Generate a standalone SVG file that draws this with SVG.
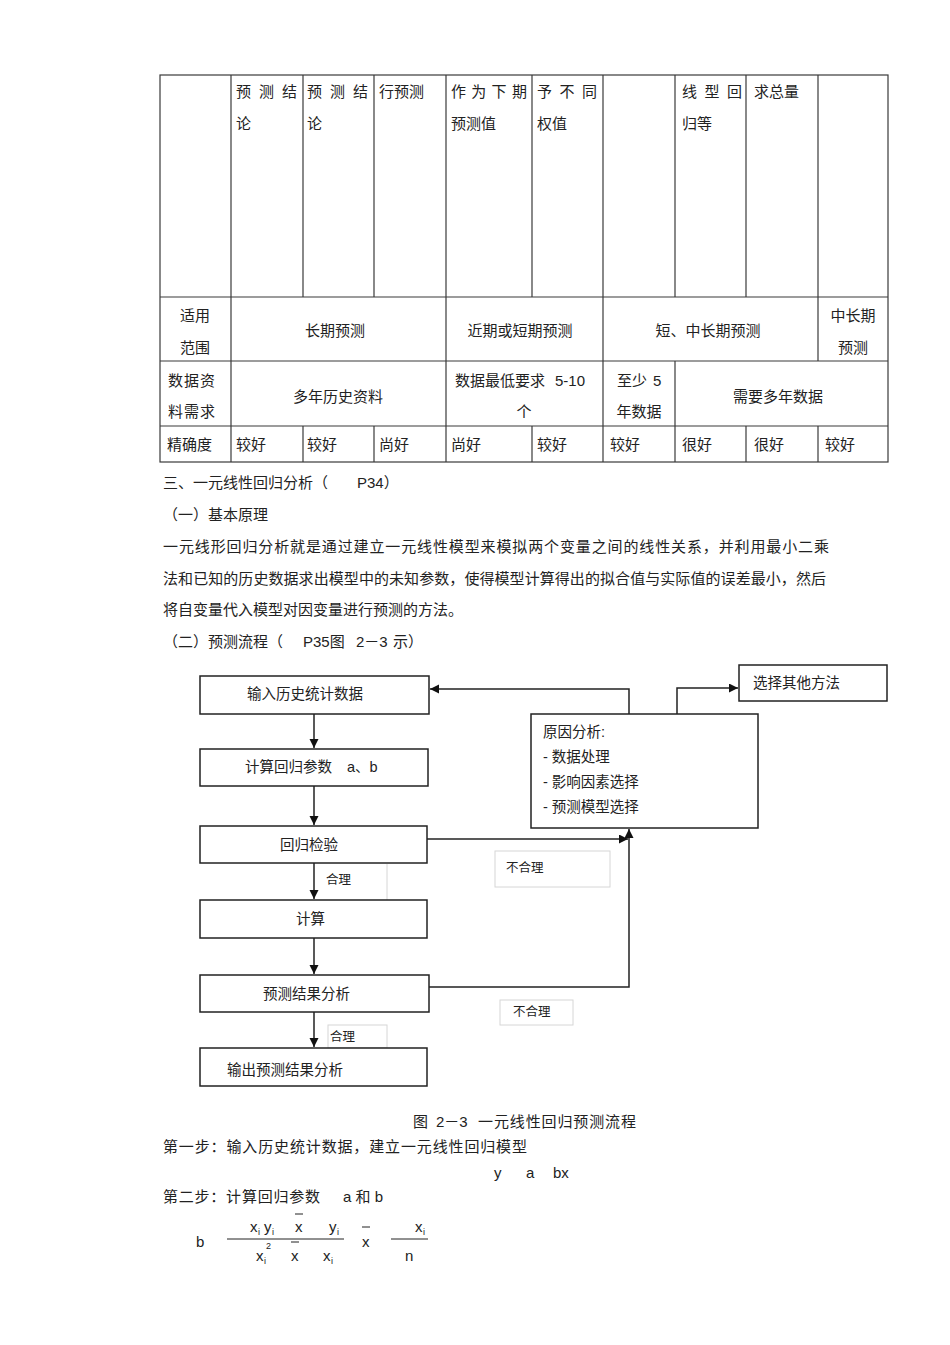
<svg xmlns="http://www.w3.org/2000/svg" width="950" height="1345" viewBox="0 0 950 1345">
<style>
text{font-family:"Liberation Sans","Noto Sans CJK SC",sans-serif;fill:#222;}
.t{font-size:15px;}
.f{font-size:14.5px;}
.s{font-size:12.5px;}
.m{font-size:15px;font-family:"Liberation Sans",sans-serif;}
.sub{font-size:9px;font-family:"Liberation Sans",sans-serif;}
.c{text-anchor:middle;}
.tl{stroke:#3a3a3a;stroke-width:1.2;fill:none;}
.box{stroke:#222;stroke-width:1.5;fill:#fff;}
.faint{stroke:#d6d6d6;stroke-width:1;fill:none;}
.con{stroke:#222;stroke-width:1.5;fill:none;}
</style>
<defs>
<marker id="ah" markerUnits="userSpaceOnUse" markerWidth="10" markerHeight="10" refX="9" refY="4.5" orient="auto">
<path d="M0,0 L9,4.5 L0,9 z" fill="#111"/>
</marker>
</defs>
<rect x="0" y="0" width="950" height="1345" fill="#fff"/>

<g id="table">
<rect class="tl" x="160" y="75" width="728" height="387"/>
<line class="tl" x1="160" y1="297" x2="888" y2="297"/>
<line class="tl" x1="160" y1="361" x2="888" y2="361"/>
<line class="tl" x1="160" y1="426" x2="888" y2="426"/>
<line class="tl" x1="231" y1="75" x2="231" y2="462"/>
<line class="tl" x1="446" y1="75" x2="446" y2="462"/>
<line class="tl" x1="603" y1="75" x2="603" y2="462"/>
<line class="tl" x1="303" y1="75" x2="303" y2="297"/>
<line class="tl" x1="303" y1="426" x2="303" y2="462"/>
<line class="tl" x1="374" y1="75" x2="374" y2="297"/>
<line class="tl" x1="374" y1="426" x2="374" y2="462"/>
<line class="tl" x1="532" y1="75" x2="532" y2="297"/>
<line class="tl" x1="532" y1="426" x2="532" y2="462"/>
<line class="tl" x1="746" y1="75" x2="746" y2="297"/>
<line class="tl" x1="746" y1="426" x2="746" y2="462"/>
<line class="tl" x1="675" y1="75" x2="675" y2="297"/>
<line class="tl" x1="675" y1="361" x2="675" y2="462"/>
<line class="tl" x1="818" y1="75" x2="818" y2="361"/>
<line class="tl" x1="818" y1="426" x2="818" y2="462"/>

<text class="t" x="236" y="97" letter-spacing="8">预测结</text>
<text class="t" x="236" y="129">论</text>
<text class="t" x="307" y="97" letter-spacing="8">预测结</text>
<text class="t" x="307" y="129">论</text>
<text class="t" x="379" y="97">行预测</text>
<text class="t" x="451" y="97" letter-spacing="5.3">作为下期</text>
<text class="t" x="451" y="129">预测值</text>
<text class="t" x="537" y="97" letter-spacing="7.5">予不同</text>
<text class="t" x="537" y="129">权值</text>
<text class="t" x="682" y="97" letter-spacing="7.5">线型回</text>
<text class="t" x="682" y="129">归等</text>
<text class="t" x="754" y="97">求总量</text>

<text class="t c" x="195" y="321">适用</text>
<text class="t c" x="195" y="353">范围</text>
<text class="t c" x="335" y="336">长期预测</text>
<text class="t c" x="520" y="336">近期或短期预测</text>
<text class="t c" x="708" y="336">短、中长期预测</text>
<text class="t c" x="853" y="321">中长期</text>
<text class="t c" x="853" y="353">预测</text>

<text class="t" x="168" y="386" letter-spacing="1">数据资</text>
<text class="t" x="168" y="417" letter-spacing="1">料需求</text>
<text class="t c" x="338" y="402">多年历史资料</text>
<text class="t" x="455" y="386">数据最低要求<tspan dx="10">5-10</tspan></text>
<text class="t c" x="524" y="417">个</text>
<text class="t" x="617" y="386">至少<tspan dx="6">5</tspan></text>
<text class="t c" x="639" y="417">年数据</text>
<text class="t c" x="778" y="402">需要多年数据</text>

<text class="t" x="167" y="450">精确度</text>
<text class="t" x="236" y="450">较好</text>
<text class="t" x="307" y="450">较好</text>
<text class="t" x="379" y="450">尚好</text>
<text class="t" x="451" y="450">尚好</text>
<text class="t" x="537" y="450">较好</text>
<text class="t" x="610" y="450">较好</text>
<text class="t" x="682" y="450">很好</text>
<text class="t" x="754" y="450">很好</text>
<text class="t" x="825" y="450">较好</text>
</g>

<g id="text-body">
<text class="t" x="163" y="488">三、一元线性回归分析（<tspan x="357">P34）</tspan></text>
<text class="t" x="163" y="520">（一）基本原理</text>
<text class="t" x="163" y="552" textLength="666" lengthAdjust="spacing">一元线形回归分析就是通过建立一元线性模型来模拟两个变量之间的线性关系，并利用最小二乘</text>
<text class="t" x="163" y="584" textLength="663" lengthAdjust="spacing">法和已知的历史数据求出模型中的未知参数，使得模型计算得出的拟合值与实际值的误差最小，然后</text>
<text class="t" x="163" y="615">将自变量代入模型对因变量进行预测的方法。</text>
<text class="t" x="163" y="647">（二）预测流程（<tspan x="303">P35图</tspan><tspan x="356">2－3</tspan><tspan x="393">示）</tspan></text>
</g>

<g id="connectors">
<line class="con" x1="314" y1="714" x2="314" y2="748" marker-end="url(#ah)"/>
<line class="con" x1="314" y1="786" x2="314" y2="825" marker-end="url(#ah)"/>
<line class="con" x1="314" y1="863" x2="314" y2="899" marker-end="url(#ah)"/>
<line class="con" x1="314" y1="938" x2="314" y2="974" marker-end="url(#ah)"/>
<line class="con" x1="314" y1="1012" x2="314" y2="1047" marker-end="url(#ah)"/>
<path class="con" d="M629,714 V689 H430" marker-end="url(#ah)"/>
<path class="con" d="M677,714 V688 H738" marker-end="url(#ah)"/>
<path class="con" d="M427,839 H628" marker-end="url(#ah)"/>
<path class="con" d="M429,987 H629 V829" marker-end="url(#ah)"/>
</g>

<g id="label-heli1">
<line class="faint" x1="387" y1="864" x2="387" y2="900"/>
<text class="s" x="326" y="884">合理</text>
</g>
<g id="label-buheli1">
<rect class="faint" x="495" y="851" width="115" height="36"/>
<text class="s" x="506" y="872">不合理</text>
</g>
<g id="label-buheli2">
<rect class="faint" x="500" y="1000" width="73" height="25"/>
<text class="s" x="513" y="1016">不合理</text>
</g>
<g id="label-heli2">
<rect class="faint" x="328" y="1025" width="59" height="23"/>
<text class="s" x="330" y="1041">合理</text>
</g>

<g id="n1">
<rect class="box" x="200" y="676" width="229" height="38"/>
<text class="f" x="247" y="699">输入历史统计数据</text>
</g>
<g id="n2">
<rect class="box" x="200" y="749" width="228" height="37"/>
<text class="f" x="245" y="772">计算回归参数<tspan x="347">a、b</tspan></text>
</g>
<g id="n3">
<rect class="box" x="200" y="826" width="227" height="37"/>
<text class="f" x="280" y="850">回归检验</text>
</g>
<g id="n4">
<rect class="box" x="200" y="900" width="227" height="38"/>
<text class="f" x="296" y="924">计算</text>
</g>
<g id="n5">
<rect class="box" x="200" y="975" width="229" height="37"/>
<text class="f" x="263" y="999">预测结果分析</text>
</g>
<g id="n6">
<rect class="box" x="200" y="1048" width="227" height="38"/>
<text class="f" x="227" y="1075">输出预测结果分析</text>
</g>
<g id="n7">
<rect class="box" x="531" y="714" width="227" height="114"/>
<text class="f" x="543" y="737">原因分析:</text>
<text class="f" x="543" y="762">- 数据处理</text>
<text class="f" x="543" y="787">- 影响因素选择</text>
<text class="f" x="543" y="812">- 预测模型选择</text>
</g>
<g id="n8">
<rect class="box" x="739" y="665" width="148" height="36"/>
<text class="f" x="753" y="688">选择其他方法</text>
</g>

<g id="text-after">
<text class="t" x="413" y="1127">图<tspan x="436">2－3</tspan><tspan x="478" textLength="158" lengthAdjust="spacing">一元线性回归预测流程</tspan></text>
<text class="t" x="163" y="1152" textLength="364" lengthAdjust="spacing">第一步：输入历史统计数据，建立一元线性回归模型</text>
<text class="m" x="494" y="1178">y</text>
<text class="m" x="526" y="1178">a</text>
<text class="m" x="553" y="1178">bx</text>
<text class="t" x="163" y="1202"><tspan textLength="157" lengthAdjust="spacing">第二步：计算回归参数</tspan><tspan x="343">a 和 b</tspan></text>

<text class="m" x="196" y="1247">b</text>
<line x1="227" y1="1239" x2="344" y2="1239" stroke="#222" stroke-width="1"/>
<text class="m" x="250" y="1232">x</text><text class="sub" x="258" y="1235">i</text>
<text class="m" x="264" y="1232">y</text><text class="sub" x="272" y="1235">i</text>
<text class="m" x="295" y="1232">x</text>
<line x1="295" y1="1214" x2="303" y2="1214" stroke="#222" stroke-width="1"/>
<text class="m" x="329" y="1232">y</text><text class="sub" x="337" y="1235">i</text>
<text class="m" x="256" y="1261">x</text><text class="sub" x="264" y="1264">i</text><text class="sub" x="266" y="1249">2</text>
<text class="m" x="291" y="1261">x</text>
<line x1="291" y1="1242" x2="299" y2="1242" stroke="#222" stroke-width="1"/>
<text class="m" x="323" y="1261">x</text><text class="sub" x="331" y="1264">i</text>
<text class="m" x="362" y="1247">x</text>
<line x1="362" y1="1227" x2="370" y2="1227" stroke="#222" stroke-width="1"/>
<line x1="391" y1="1239" x2="428" y2="1239" stroke="#222" stroke-width="1"/>
<text class="m" x="415" y="1232">x</text><text class="sub" x="423" y="1235">i</text>
<text class="m" x="405" y="1261">n</text>
</g>
</svg>
